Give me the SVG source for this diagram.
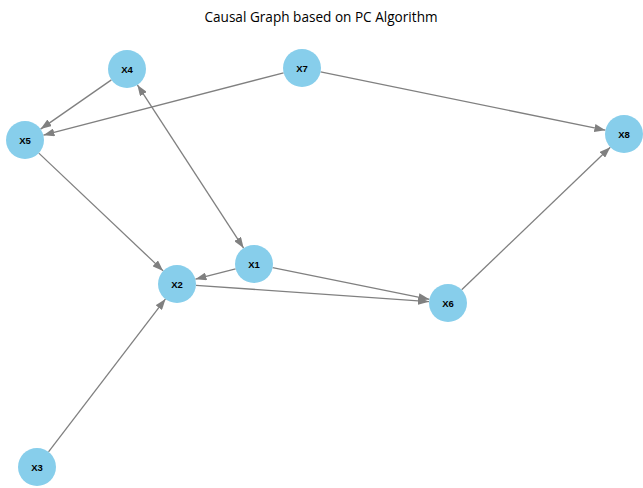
<svg xmlns="http://www.w3.org/2000/svg" width="643" height="488" viewBox="0 0 643 488">
<style>
.title{font-family:"Open Sans","Liberation Sans",sans-serif;font-size:13.6px;fill:#000;text-anchor:middle}
.node circle{fill:#87CEEB}
.node text{font-family:"Liberation Sans","DejaVu Sans",sans-serif;font-size:9.5px;font-weight:bold;fill:#000;text-anchor:middle;dominant-baseline:central}
.edges line{stroke:#808080;stroke-width:1.3;fill:none;marker-end:url(#arr)}
</style>
<defs>
<marker id="arr" markerUnits="userSpaceOnUse" viewBox="0 0 11 8" refX="11" refY="4" markerWidth="11" markerHeight="8" orient="auto-start-reverse">
<path d="M0,0 L11,4 L0,8 z" fill="#808080"/>
</marker>
</defs>
<rect width="643" height="488" fill="#fff"/>
<text class="title" x="321" y="22">Causal Graph based on PC Algorithm</text>
<g class="edges" id="edges">
<line x1="111.4" y1="79.9" x2="40.6" y2="129.1"/>
<line x1="283.6" y1="72.8" x2="43.4" y2="135.2"/>
<line x1="320.6" y1="71.8" x2="605.4" y2="130.2"/>
<line x1="137.4" y1="84.9" x2="243.6" y2="248.1" marker-start="url(#arr)"/>
<line x1="38.8" y1="153.1" x2="163.2" y2="270.9"/>
<line x1="235.6" y1="268.8" x2="195.4" y2="279.2"/>
<line x1="272.6" y1="267.7" x2="429.4" y2="299.3"/>
<line x1="196" y1="285.3" x2="429" y2="301.7"/>
<line x1="461.7" y1="289.8" x2="610.3" y2="147.2"/>
<line x1="48.5" y1="451.9" x2="165.5" y2="298.9"/>
</g>
<g class="node" id="X4"><circle cx="127" cy="69" r="19"/><text x="127" y="69">X4</text></g>
<g class="node" id="X7"><circle cx="302" cy="68" r="19"/><text x="302" y="68">X7</text></g>
<g class="node" id="X5"><circle cx="25" cy="140" r="19"/><text x="25" y="140">X5</text></g>
<g class="node" id="X8"><circle cx="624" cy="134" r="19"/><text x="624" y="134">X8</text></g>
<g class="node" id="X1"><circle cx="254" cy="264" r="19"/><text x="254" y="264">X1</text></g>
<g class="node" id="X2"><circle cx="177" cy="284" r="19"/><text x="177" y="284">X2</text></g>
<g class="node" id="X6"><circle cx="448" cy="303" r="19"/><text x="448" y="303">X6</text></g>
<g class="node" id="X3"><circle cx="37" cy="467" r="19"/><text x="37" y="467">X3</text></g>
</svg>
